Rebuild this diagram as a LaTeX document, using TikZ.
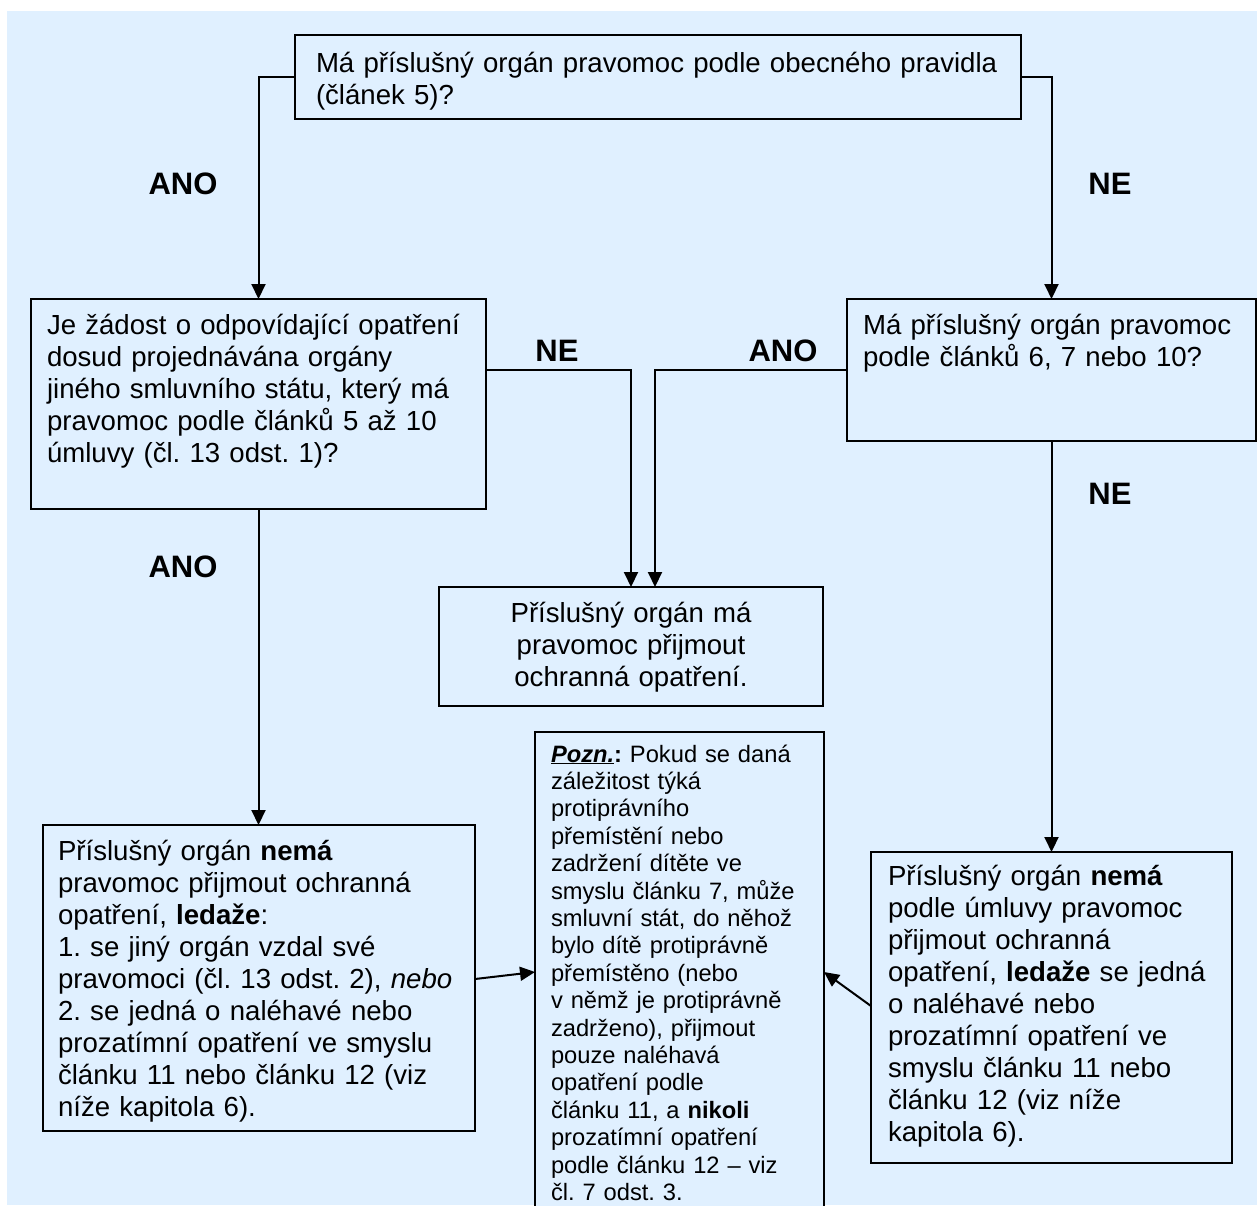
\documentclass[tikz,border=0pt]{standalone}
\usepackage{fontspec}
\setmainfont{Liberation Sans}
\usetikzlibrary{arrows.meta}
\definecolor{bg}{RGB}{224,240,255}
\tikzset{
  boxnode/.style={draw=black, line width=2pt, fill=bg, rectangle, inner sep=0pt, outer sep=0pt, anchor=north west},
  txt/.style={inner sep=0pt, outer sep=0pt, anchor=base west, align=left, font=\fontsize{27.6}{32}\selectfont\frenchspacing},
  notetxt/.style={inner sep=0pt, outer sep=0pt, anchor=base west, align=left, text width=270pt, font=\fontsize{23.7}{27.4}\selectfont\frenchspacing},
  lbl/.style={inner sep=0pt, font=\fontsize{31}{36}\selectfont\bfseries},
  arr/.style={line width=2pt, -{Triangle[width=14pt,length=15pt]}},
}
\begin{document}
\begin{tikzpicture}[x=1pt,y=-1pt]
\clip (0,0) rectangle (1257,1205);
\fill[white] (0,0) rectangle (1257,1205);
\fill[bg] (7,11) rectangle (1257,1205);

% boxes
\node[boxnode, minimum width=726pt, minimum height=84pt] (b1) at (295,35) {};
\node[boxnode, minimum width=455pt, minimum height=210pt] (b2) at (31,299) {};
\node[boxnode, minimum width=409pt, minimum height=142pt] (b3) at (847,299) {};
\node[boxnode, minimum width=384pt, minimum height=119pt] (b4) at (439,587) {};
\node[boxnode, minimum width=432pt, minimum height=306pt] (b5) at (43,825) {};
\node[boxnode, minimum width=361pt, minimum height=311pt] (b6) at (871,852) {};
\node[boxnode, minimum width=289pt, minimum height=490pt] (note) at (535,732) {};

% texts
\node[txt, text width=700pt] (t1) at (316,72) {Má příslušný orgán pravomoc podle obecného pravidla\\(článek 5)?};
\node[txt, text width=430pt] (t2) at (47,334) {Je žádost o odpovídající opatření\\dosud projednávána orgány\\jiného smluvního státu, který má\\pravomoc podle článků 5 až 10\\úmluvy (čl. 13 odst. 1)?};
\node[txt, text width=385pt] (t3) at (863,334) {Má příslušný orgán pravomoc\\podle článků 6, 7 nebo 10?};
\node[txt, anchor=base, align=center, text width=370pt] (t4) at (631,622) {Příslušný orgán má\\pravomoc přijmout\\ochranná opatření.};
\node[txt, text width=415pt] (t5) at (58,860) {Příslušný orgán \textbf{nemá}\\pravomoc přijmout ochranná\\opatření, \textbf{ledaže}:\\1. se jiný orgán vzdal své\\pravomoci (čl. 13 odst. 2), \textit{nebo}\\2. se jedná o naléhavé nebo\\prozatímní opatření ve smyslu\\článku 11 nebo článku 12 (viz\\níže kapitola 6).};
\node[txt, text width=340pt] (t6) at (888,885) {Příslušný orgán \textbf{nemá}\\podle úmluvy pravomoc\\přijmout ochranná\\opatření, \textbf{ledaže} se jedná\\o naléhavé nebo\\prozatímní opatření ve\\smyslu článku 11 nebo\\článku 12 (viz níže\\kapitola 6).};
\node[notetxt] (t7) at (551,762) {\textbf{\textit{\underline{Pozn.}}}\textbf{:} Pokud se daná\\záležitost týká\\protiprávního\\přemístění nebo\\zadržení dítěte ve\\smyslu článku 7, může\\smluvní stát, do něhož\\bylo dítě protiprávně\\přemístěno (nebo\\v němž je protiprávně\\zadrženo), přijmout\\pouze naléhavá\\opatření podle\\článku 11, a \textbf{nikoli}\\prozatímní opatření\\podle článku 12 – viz\\čl. 7 odst. 3.};

% labels
\node[lbl] (l1) at (183,184) {ANO};
\node[lbl] (l2) at (1110,184) {NE};
\node[lbl] (l3) at (557,351) {NE};
\node[lbl] (l4) at (783,351) {ANO};
\node[lbl] (l5) at (1110,494) {NE};
\node[lbl] (l6) at (183,567) {ANO};

% connectors
\draw[arr] (b1.west) -| (b2.north);
\draw[arr] (b1.east) -| (b3.north);
\draw[arr] (b2.east |- 0,370) -| (b4.north);
\draw[arr] (b3.west |- 0,370) -| ([xshift=24pt]b4.north);
\draw[arr] (b2.south) -- (b5.north -| b2.south);
\draw[arr] (b3.south) -- (b6.north);
\draw[arr] (b5.east |- 0,979) -- (note.west |- 0,972);
\draw[arr] (b6.west |- 0,1006) -- (note.east |- 0,972);
\end{tikzpicture}
\end{document}
